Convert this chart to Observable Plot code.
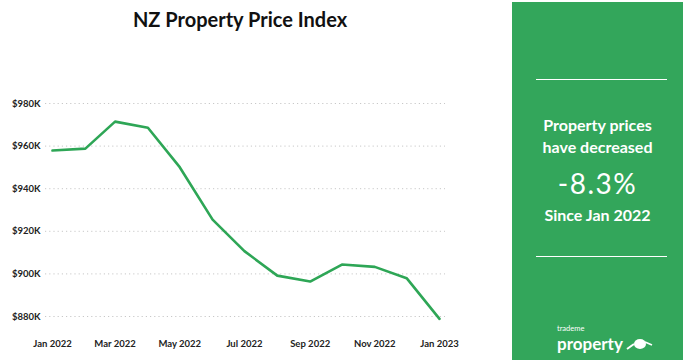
<!DOCTYPE html>
<html>
<head>
<meta charset="utf-8">
<script src="https://cdn.jsdelivr.net/npm/d3@7"></script>
<script src="https://cdn.jsdelivr.net/npm/@observablehq/plot@0.6"></script>
<style>
  html, body { margin: 0; padding: 0; background: #fff; }
  body { width: 685px; height: 363px; position: relative; overflow: hidden; font-family: Lato, "Open Sans", sans-serif; }
  #title { position: absolute; left: 0; top: 0; width: 480px; height: 38px; line-height: 38px; text-align: center; font-weight: 700; font-size: 20px; color: #111; }
  #chart { position: absolute; left: 0; top: 38px; }
  #panel { position: absolute; left: 512px; top: 2px; width: 171px; height: 358px; background: #33a65b; color: #fff; text-align: center; }
  .hr { position: absolute; left: 24px; width: 131px; height: 0; border-top: 1.5px solid #fff; }
  .ptxt { position: absolute; left: 0; width: 100%; font-weight: 700; font-size: 16px; line-height: 22px; }
  .big { position: absolute; left: 0; width: 100%; font-size: 28px; font-weight: 400; line-height: 30px; letter-spacing: 1.5px; }
  #logo { position: absolute; left: 45px; top: 322px; }
</style>
</head>
<body>
<div id="title">NZ Property Price Index</div>
<div id="chart"></div>
<div id="panel">
  <div class="hr" style="top:77px"></div>
  <div class="ptxt" style="top:112px">Property prices<br>have decreased</div>
  <div class="big" style="top:166px">-8.3%</div>
  <div class="ptxt" style="top:202px">Since Jan 2022</div>
  <div class="hr" style="top:254px"></div>
  <div id="logo">
    <div style="font-size:7.5px;line-height:9px;height:9px;text-align:left;font-weight:400;">trademe</div>
    <div style="font-size:17px;line-height:20px;height:20px;margin-top:1px;text-align:left;font-weight:700;display:flex;align-items:center;">property<svg width="28" height="14" style="margin-left:2px"><path d="M2,12 L9,7" stroke="#fff" stroke-width="2"/><ellipse cx="15" cy="7" rx="6" ry="5" fill="#fff"/><path d="M20,5 L27,8" stroke="#fff" stroke-width="1.5"/></svg></div>
  </div>
</div>
<script>
const months = ["2022-01","2022-02","2022-03","2022-04","2022-05","2022-06","2022-07","2022-08","2022-09","2022-10","2022-11","2022-12","2023-01"];
const prices = [957900, 958800, 971500, 968600, 950100, 925500, 910700, 899200, 896400, 904400, 903300, 898000, 878900];
const yTicks = [880000, 900000, 920000, 940000, 960000, 980000];
const xTicks = ["2022-01","2022-03","2022-05","2022-07","2022-09","2022-11","2023-01"];

const data = months.map((m, i) => ({date: new Date(m + "-01T00:00:00Z"), price: prices[i]}));

const chart = Plot.plot({
  width: 505,
  height: 325,
  marginLeft: 52,
  marginRight: 66,
  marginTop: 65,
  marginBottom: 47,
  style: {fontFamily: "Lato, 'Open Sans', sans-serif", fontSize: "9.5px", fontWeight: 700, color: "#222", background: "transparent"},
  x: {type: "utc", domain: [data[0].date, data[data.length - 1].date]},
  y: {domain: [880000, 980000]},
  marks: [
    Plot.ruleY(yTicks, {stroke: "#c8c8c8", strokeWidth: 1, strokeDasharray: "1.2,3", insetLeft: -7, insetRight: -6}),
    Plot.axisY({ticks: yTicks, tickSize: 0, tickPadding: 12, tickFormat: d => "$" + (d / 1000) + "K", label: null}),
    Plot.axisX({ticks: xTicks.map(t => new Date(t + "-01T00:00:00Z")), tickSize: 0, tickPadding: 24, tickFormat: d3.utcFormat("%b %Y"), label: null}),
    Plot.line(data, {x: "date", y: "price", stroke: "#2ea656", strokeWidth: 2.6, strokeLinejoin: "round", strokeLinecap: "round"})
  ]
});
document.getElementById("chart").appendChild(chart);
</script>
</body>
</html>
